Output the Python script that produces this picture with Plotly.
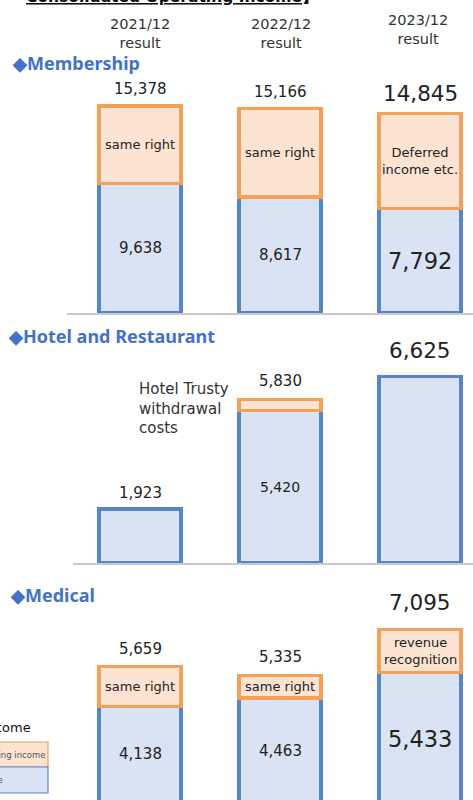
import plotly.graph_objects as go

W, H = 473, 800

periods = ["2021/12", "2022/12", "2023/12"]
period_sub = ["result", "result", "result"]

# Membership
mem_base = [9638, 8617, 7792]
mem_total = [15378, 15166, 14845]
mem_extra_label = ["same right", "same right", "Deferred<br>income etc."]

# Hotel and Restaurant
hot_base = [1923, 5420, 6625]
hot_total = [1923, 5830, 6625]

# Medical
med_base = [4138, 4463, 5433]
med_total = [5659, 5335, 7095]
med_extra_label = ["same right", "same right", "revenue<br>recognition"]

segments = ["Membership", "Hotel and Restaurant", "Medical"]

BLUE_FILL = "#dae3f3"
BLUE_LINE = "#5686c6"
OR_FILL = "#fde3d2"
OR_LINE = "#f3a05a"
TITLE_BLUE = "#4472c4"
TXT = "#222222"
FONT = "DejaVu Sans"

def px2paper(py):
    return 1 - py / H

# panel geometry (pixel): (domain_top_px, baseline_px, px_per_unit, domain_bottom_px)
panels = [
    (96, 313, 0.01346, 313),
    (355, 563, 0.0281, 563),
    (615, 814.5, 0.0261, 800),
]

fig = go.Figure()
x_idx = [0, 1, 2]
bw = 0.585

base_lists = [mem_base, hot_base, med_base]
total_lists = [mem_total, hot_total, med_total]

for i in range(3):
    base = base_lists[i]
    tot = total_lists[i]
    extra = [(t - b) if t - b > 0 else None for t, b in zip(tot, base)]
    xa = "x" if i == 0 else f"x{i+1}"
    ya = "y" if i == 0 else f"y{i+1}"
    fig.add_trace(go.Bar(x=x_idx, y=base, width=bw, xaxis=xa, yaxis=ya,
                         marker=dict(color=BLUE_FILL, line=dict(color=BLUE_LINE, width=3.2)),
                         showlegend=False, hoverinfo="skip"))
    fig.add_trace(go.Bar(x=x_idx, y=extra, width=bw, xaxis=xa, yaxis=ya,
                         marker=dict(color=OR_FILL, line=dict(color=OR_LINE, width=3.2)),
                         showlegend=False, hoverinfo="skip"))

layout = dict(
    width=W, height=H, barmode="stack",
    margin=dict(l=0, r=0, t=0, b=0),
    plot_bgcolor="white", paper_bgcolor="white",
    font=dict(family=FONT, color=TXT),
    showlegend=False,
)
x_left_px = [67, 73, 73]
for i, (top_px, base_px, k, bot_px) in enumerate(panels):
    sfx = "" if i == 0 else str(i + 1)
    xl = x_left_px[i]
    xr = W
    # mapping: pixel = 140 + 140*x
    layout["xaxis" + sfx] = dict(
        domain=[xl / W, 1], range=[(xl - 140) / 140, (xr - 140) / 140],
        showticklabels=False, showgrid=False, zeroline=False,
        showline=(i < 2), linecolor="#c8c8c8", linewidth=1.5,
        anchor="y" + sfx, fixedrange=True,
    )
    ymin = (base_px - bot_px) / k
    ymax = (base_px - top_px) / k
    layout["yaxis" + sfx] = dict(
        domain=[px2paper(bot_px), px2paper(top_px)], range=[ymin, ymax],
        showticklabels=False, showgrid=False, zeroline=False,
        anchor="x" + sfx, fixedrange=True,
    )
fig.update_layout(**layout)

ann = []

def A(**kw):
    d = dict(showarrow=False, font=dict(family=FONT, size=14, color=TXT))
    f = kw.pop("font", None)
    if f:
        d["font"] = dict(d["font"], **f)
    d.update(kw)
    ann.append(d)

# cut-off title at very top
A(text="<b><u>Consolidated Operating Income</u>】</b>", x=172 / W, y=px2paper(8),
  xref="paper", yref="paper", xanchor="center", yanchor="bottom", font=dict(size=15.5, color="#111"))

# column headers
hdr_x = [140, 281, 418]
hdr_y = [33, 33, 30]
for j in range(3):
    A(text=f"{periods[j]}<br>{period_sub[j]}", x=hdr_x[j] / W, y=px2paper(hdr_y[j]),
      xref="paper", yref="paper", xanchor="center", yanchor="middle",
      font=dict(size=14.5, color="#333"))

# segment titles
title_pos = [(10, 63), (6, 336), (8, 595)]
for i, seg in enumerate(segments):
    A(text=f"◆{seg}", x=title_pos[i][0] / W, y=px2paper(title_pos[i][1]),
      xref="paper", yref="paper", xanchor="left", yanchor="middle",
      font=dict(size=18, color=TITLE_BLUE, family="Noto Sans", weight="bold"))

big = [False, False, True]
# totals above bars
tot_shift = [[6, 6, 5], [5, 7, 12], [7, 7, 12]]
for i in range(3):
    sfx = "" if i == 0 else str(i + 1)
    for j in range(3):
        A(text=f"{total_lists[i][j]:,}", x=j, y=total_lists[i][j], xref="x" + sfx, yref="y" + sfx,
          xanchor="center", yanchor="bottom", yshift=tot_shift[i][j],
          font=dict(size=21.5 if big[j] else 15))

# inside blue values
A_frac = {0: [0.5, 0.5, 0.5], 2: [0.56, 0.545, 0.53]}
for i, sfx in [(0, ""), (2, "3")]:
    base = base_lists[i]
    for j in range(3):
        A(text=f"{base[j]:,}", x=j, y=base[j] * A_frac[i][j],
          xref="x" + sfx, yref="y" + sfx, xanchor="center", yanchor="middle",
          font=dict(size=22.5 if big[j] else 15))
A(text=f"{hot_base[1]:,}", x=1, y=hot_base[1] * 0.5, xref="x2", yref="y2",
  xanchor="center", yanchor="middle", font=dict(size=14))

# orange labels
for j in range(3):
    A(text=mem_extra_label[j], x=j, y=(mem_base[j] + mem_total[j]) / 2, xref="x", yref="y",
      xanchor="center", yanchor="middle", font=dict(size=13))
    A(text=med_extra_label[j], x=j, y=(med_base[j] + med_total[j]) / 2, xref="x3", yref="y3",
      xanchor="center", yanchor="middle", font=dict(size=13))

# hotel note
A(text="Hotel Trusty<br>withdrawal<br>costs", x=137 / W, y=px2paper(408), xref="paper", yref="paper",
  xanchor="left", yanchor="middle", align="left", font=dict(size=15, color="#333"))

# legend at bottom-left (cut off)
A(text="Operating income", x=33 / W, y=px2paper(727), xref="paper", yref="paper",
  xanchor="right", yanchor="middle", font=dict(size=13, color="#111"))
shapes = [
    dict(type="rect", xref="paper", yref="paper", x0=-60 / W, x1=48 / W,
         y0=px2paper(767), y1=px2paper(742), fillcolor=OR_FILL, line=dict(color=OR_LINE, width=1.2)),
    dict(type="rect", xref="paper", yref="paper", x0=-60 / W, x1=48 / W,
         y0=px2paper(793), y1=px2paper(767), fillcolor=BLUE_FILL, line=dict(color=BLUE_LINE, width=1.2)),
]
A(text="Non-recurring income", x=47 / W, y=px2paper(754.5), xref="paper", yref="paper",
  xanchor="right", yanchor="middle", font=dict(size=8.5, color="#555"))
A(text="Recurring base", x=5 / W, y=px2paper(780), xref="paper", yref="paper",
  xanchor="right", yanchor="middle", font=dict(size=8.5, color="#555"))

fig.update_layout(annotations=ann, shapes=shapes)
fig.write_html("out.html", config={"displayModeBar": False},
               post_script="document.body.style.margin='0';")
